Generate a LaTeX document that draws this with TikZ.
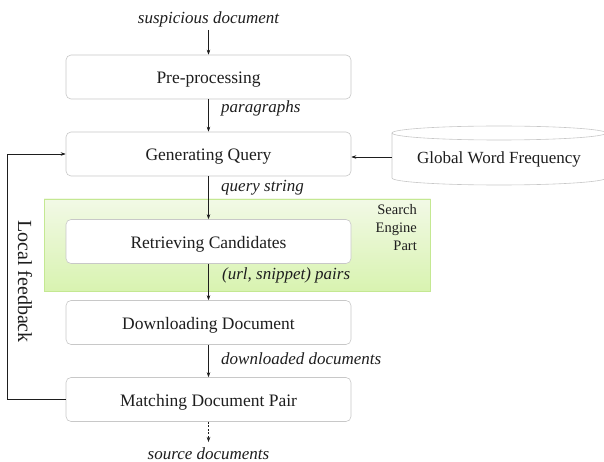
\documentclass[tikz,border=0pt]{standalone}
\usepackage{fontspec}
\setmainfont{Liberation Serif}
\usetikzlibrary{arrows.meta}
\definecolor{boxline}{RGB}{200,200,200}
\definecolor{segtop}{RGB}{242,249,230}
\definecolor{segbot}{RGB}{216,243,176}
\definecolor{segline}{RGB}{196,232,146}
\definecolor{ink}{RGB}{30,30,30}
\begin{document}
\begin{tikzpicture}[x=1pt,y=-1pt,
  every node/.style={text=ink},
  stepbox/.style={draw=boxline, line width=0.6pt, rounded corners=5pt, fill=white,
    minimum width=285pt, minimum height=44pt, inner sep=0pt,
    text height=14pt, text depth=0pt,
    font=\fontsize{17.5}{20}\selectfont},
  lbl/.style={font=\fontsize{17}{20}\selectfont\itshape, inner sep=3pt},
  arr/.style={draw=ink, line width=0.5pt, -{Stealth[length=5pt,width=3.5pt]}},
  seggroup/.style={draw=segline, line width=0.8pt, top color=segtop, bottom color=segbot,
    minimum width=386.5pt, minimum height=92.5pt, inner sep=0pt}
]
\useasboundingbox (0,0) rectangle (604,462);

% search engine group
\node[seggroup] (seg) at (237.25,245.25) {};
\node[anchor=north east, align=right, inner sep=0pt,
  font=\fontsize{14.5}{18}\selectfont] (segl) at (417,204) {Search\\Engine\\Part};

% main steps
\node[stepbox] (pre) at (208.5,77) {Pre-processing};
\node[stepbox] (gq) at (208.5,154) {Generating Query};
\node[stepbox] (rc) at (208.5,241.5) {Retrieving Candidates};
\node[stepbox] (dd) at (208.5,322.5) {Downloading Document};
\node[stepbox] (mdp) at (208.5,399.5) {Matching Document Pair};

% cylinder
\fill[white] (392,133) -- (392,178) arc[start angle=180, end angle=0, x radius=107, y radius=7]
  -- (606,133) -- cycle;
\draw[draw=boxline, line width=0.6pt] (392,133) -- (392,178)
  arc[start angle=180, end angle=0, x radius=107, y radius=7] -- (606,133);
\draw[draw=boxline, line width=0.6pt] (499,133) ellipse [x radius=107, y radius=7];
\node[minimum width=214pt, inner sep=0pt, text height=14pt, text depth=0pt,
  font=\fontsize{17}{20}\selectfont] (gwf) at (499,157) {Global Word Frequency};

% labels
\node[lbl] (sd) at (208.5,19) {suspicious document};
\node[lbl, inner sep=1pt, anchor=base] (src) at (208.5,459) {source documents};
\node[lbl, anchor=west] (lpar) at (218,108) {paragraphs};
\node[lbl, anchor=west] (lqs) at (218,188) {query string};
\node[lbl, anchor=west] (lurl) at (219,275) {(url, snippet) pairs};
\node[lbl, anchor=west] (ldd) at (218,359) {downloaded documents};
\node[rotate=-90, inner sep=0pt, font=\fontsize{20}{24}\selectfont] (lfb) at (25,281.5) {Local feedback};

% connectors
\draw[arr] (sd.south) -- (pre.north);
\draw[arr] (pre.south) -- (gq.north);
\draw[arr] (gq.south) -- (rc.north);
\draw[arr] (rc.south) -- (dd.north);
\draw[arr] (dd.south) -- (mdp.north);
\draw[arr, dashed, dash pattern=on 2pt off 1.5pt, shorten >=4pt] (mdp.south) -- (src.north);
\draw[arr] (gwf.west) -- (gq.east |- gwf.west);
\draw[arr] (mdp.west) -- ++(-58.5,0) |- (gq.west);
\end{tikzpicture}
\end{document}
